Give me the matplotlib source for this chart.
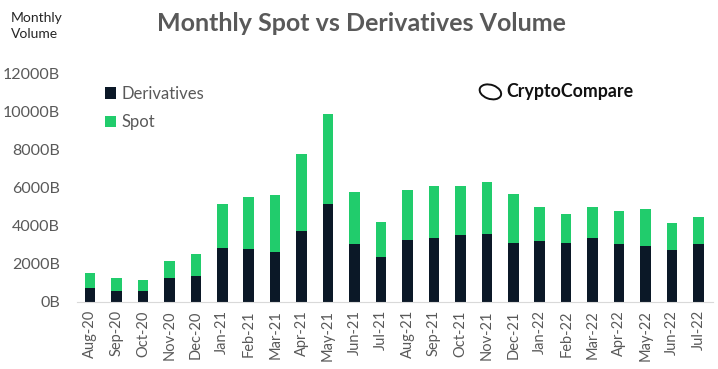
import numpy as np
import matplotlib.pyplot as plt
from matplotlib.patches import Ellipse

plt.rcParams['font.family'] = ['Lato', 'DejaVu Sans']

# 月份
months = ["Aug-20", "Sep-20", "Oct-20", "Nov-20", "Dec-20", "Jan-21", "Feb-21", "Mar-21",
          "Apr-21", "May-21", "Jun-21", "Jul-21", "Aug-21", "Sep-21", "Oct-21", "Nov-21",
          "Dec-21", "Jan-22", "Feb-22", "Mar-22", "Apr-22", "May-22", "Jun-22", "Jul-22"]

# 衍生品成交量 (十亿美元)
derivatives = [710, 570, 570, 1240, 1360, 2800, 2760, 2620,
               3740, 5150, 3050, 2370, 3260, 3330, 3500, 3540,
               3110, 3170, 3110, 3340, 3050, 2920, 2710, 3050]

# 总成交量 (衍生品 + 现货)
totals = [1520, 1260, 1140, 2140, 2530, 5130, 5500, 5610,
          7730, 9840, 5750, 4210, 5870, 6100, 6090, 6300,
          5680, 4970, 4600, 4960, 4740, 4870, 4110, 4460]
spot = [t - d for t, d in zip(totals, derivatives)]

yticks = [0, 2000, 4000, 6000, 8000, 10000, 12000]

deriv_color = "#0b1827"
spot_color = "#21cc6c"
text_color = "#595959"

fig = plt.figure(figsize=(7.18, 3.69), dpi=100)
ax = fig.add_axes([0.107, 0.182, 0.886, 0.62])

x = np.arange(len(months))
ax.bar(x, derivatives, width=0.4, color=deriv_color, label="Derivatives")
ax.bar(x, spot, width=0.4, bottom=derivatives, color=spot_color, label="Spot")

ax.set_xlim(-0.5, len(months) - 0.45)
ax.set_ylim(0, 12000)
ax.set_yticks(yticks)
ax.set_yticklabels([f"{v}B" for v in yticks], fontsize=11.5, color=text_color)
ax.set_xticks(x)
ax.set_xticklabels(months, rotation=90, fontsize=10.5, color=text_color)
ax.tick_params(axis="y", length=0, pad=12)
ax.tick_params(axis="x", length=0, pad=6)

for s in ["top", "right", "left"]:
    ax.spines[s].set_visible(False)
ax.spines["bottom"].set_color("#d9d9d9")

ax.legend(loc="upper left", bbox_to_anchor=(0.02, 1.01), frameon=False, fontsize=12,
          labelcolor=text_color, handlelength=0.7, handleheight=0.7, handletextpad=0.3,
          labelspacing=0.75)

fig.text(0.503, 0.935, "Monthly Spot vs Derivatives Volume", ha="center", va="center",
         fontsize=18, fontweight="bold", color=text_color)
fig.text(0.015, 0.93, "Monthly\nVolume", ha="left", va="center", fontsize=10,
         color="#262626", linespacing=1.4)

# CryptoCompare 标志
fig.text(0.705, 0.753, "CryptoCompare", ha="left", va="center", fontsize=12.8,
         fontweight="bold", color="#111111")
logo = Ellipse((0.683, 0.751), 0.028, 0.042, angle=20, transform=fig.transFigure,
               fill=False, edgecolor="#111111", linewidth=1.4)
fig.add_artist(logo)

plt.savefig("out.png", dpi=100)
